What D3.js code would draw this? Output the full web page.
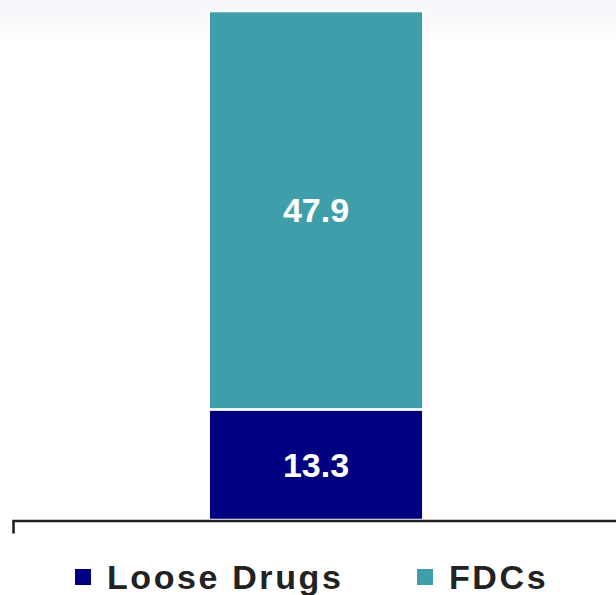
<!DOCTYPE html>
<html>
<head>
<meta charset="utf-8">
<script src="https://cdn.jsdelivr.net/npm/d3@7"></script>
<style>
  body { margin: 0; background: #fff; }
  svg { display: block; }
</style>
</head>
<body>
<script>
// data
var categories = ["Total"];
var seriesNames = ["Loose Drugs", "FDCs"];
var looseDrugs = [13.3];
var fdcs = [47.9];
var seriesColors = ["#000080", "#3e9fab"];

var w = 616;
var h = 595;

var svg = d3.select("body")
    .append("svg")
    .attr("width", w)
    .attr("height", h);

// faint background wash at the top
var defs = svg.append("defs");
var grad = defs.append("linearGradient")
    .attr("id", "wash")
    .attr("x1", 0).attr("y1", 0).attr("x2", 0).attr("y2", 1);
grad.append("stop").attr("offset", "0%").attr("stop-color", "#f5f5fa");
grad.append("stop").attr("offset", "100%").attr("stop-color", "#ffffff");
svg.append("rect")
    .attr("width", w)
    .attr("height", 45)
    .attr("fill", "url(#wash)");

var rows = categories.map(function(c, i) {
  return {cat: c, "Loose Drugs": looseDrugs[i], "FDCs": fdcs[i]};
});

var stack = d3.stack().keys(seriesNames);
var layers = stack(rows);

var xScale = d3.scaleBand()
    .domain(categories)
    .range([13, 619])
    .padding(0.477);

var total = d3.max(rows, function(d) { return d["Loose Drugs"] + d["FDCs"]; });
var yScale = d3.scaleLinear()
    .domain([0, total])
    .range([520, 11]);

var color = d3.scaleOrdinal()
    .domain(seriesNames)
    .range(seriesColors);

// bars
var groups = svg.selectAll("g.layer")
    .data(layers)
    .enter()
    .append("g")
    .attr("class", "layer")
    .attr("fill", function(d) { return color(d.key); });

groups.selectAll("rect")
    .data(function(d) { return d; })
    .enter()
    .append("rect")
    .attr("x", function(d) { return xScale(d.data.cat); })
    .attr("y", function(d) { return yScale(d[1]); })
    .attr("width", xScale.bandwidth())
    .attr("height", function(d) { return yScale(d[0]) - yScale(d[1]); })
    .attr("stroke", "#ffffff")
    .attr("stroke-width", 2.5);

// value labels
groups.selectAll("text")
    .data(function(d) { return d; })
    .enter()
    .append("text")
    .attr("x", function(d) { return xScale(d.data.cat) + xScale.bandwidth() / 2; })
    .attr("y", function(d) { return (yScale(d[0]) + yScale(d[1])) / 2; })
    .attr("dy", "0.36em")
    .attr("text-anchor", "middle")
    .attr("fill", "#ffffff")
    .style("font-family", "Liberation Sans, Arial, sans-serif")
    .style("font-weight", "bold")
    .style("font-size", "34px")
    .text(function(d) { return (d[1] - d[0]).toFixed(1); });

// x axis: just the baseline with the left end tick
var xAxis = d3.axisBottom(xScale)
    .tickValues([])
    .tickSizeOuter(13);

var gX = svg.append("g")
    .attr("transform", "translate(0,520.5)")
    .call(xAxis);
gX.select(".domain")
    .attr("stroke", "#222222")
    .attr("stroke-width", 2.6);

// legend
var legendX = [75, 417];
var legend = svg.selectAll("g.legend")
    .data(seriesNames)
    .enter()
    .append("g")
    .attr("class", "legend")
    .attr("transform", function(d, i) { return "translate(" + legendX[i] + ",569)"; });

legend.append("rect")
    .attr("width", 16)
    .attr("height", 16)
    .attr("fill", function(d) { return color(d); });

legend.append("text")
    .attr("x", 32)
    .attr("y", 20)
    .attr("fill", "#222222")
    .style("font-family", "Liberation Sans, Arial, sans-serif")
    .style("font-weight", "bold")
    .style("font-size", "34px")
    .style("letter-spacing", "2.6px")
    .text(function(d) { return d; });
</script>
</body>
</html>
